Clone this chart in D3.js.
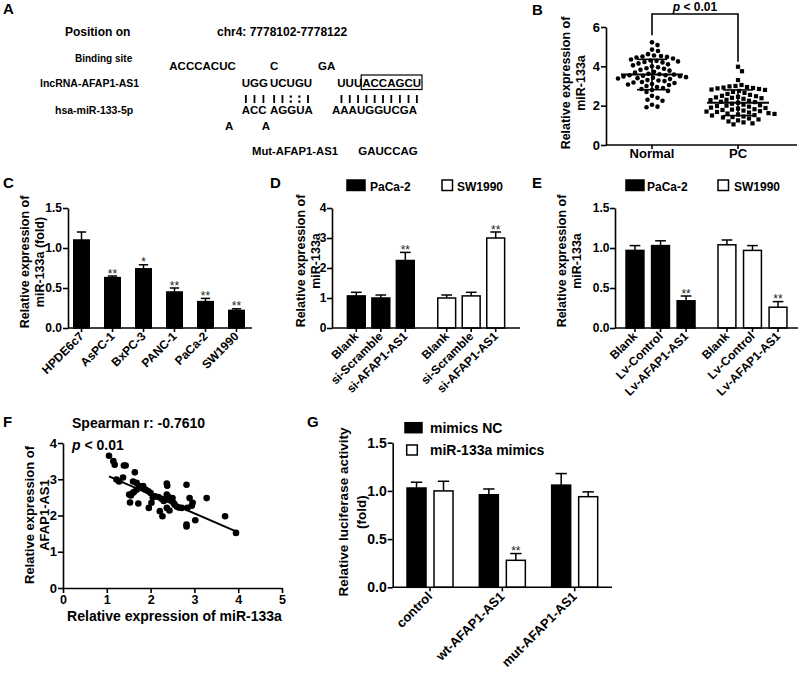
<!DOCTYPE html>
<html><head><meta charset="utf-8">
<script src="https://cdn.jsdelivr.net/npm/d3@7"></script>
<style>body{margin:0;background:#fff}svg{display:block}</style>
</head><body>
<svg id="fig" width="800" height="679"></svg>
<script>
// ---------------- DATA ----------------
// Panel A (sequence diagram text)
const aPosition = "chr4: 7778102-7778122";
const aLncUnpaired = ["ACCCACUC", "C", "GA"];
const aLncSegments = ["UGG", "UCUGU", "UUUACCAGCU"];
const aPairs = ["|||", "||::|", "||||||||||"];
const aMirSegments = ["ACC", "AGGUA", "AAAUGGUCGA"];
const aMirUnpaired = ["A", "A"];
const aMutSeq = "GAUCCAG";

// Panel B
const bCategories = ["Normal", "PC"];
const bNormal = [5.22,5.08,4.85,4.78,4.62,4.55,4.52,4.5,4.48,4.45,4.4,4.35,4.3,4.28,4.25,4.22,4.2,4.15,4.1,4.05,
  4.0,3.95,3.9,3.88,3.82,3.78,3.72,3.68,3.62,3.6,3.58,3.55,3.55,3.52,3.5,3.48,3.45,3.42,3.4,3.38,
  3.35,3.3,3.28,3.25,3.2,3.18,3.15,3.1,3.08,3.05,3.0,2.95,2.9,2.85,2.8,2.75,2.7,2.5,2.4,2.3,2.25,2.05,1.95,1.92];
const bPC = [3.98,3.75,3.3,3.05,3.0,2.98,2.95,2.92,2.9,2.88,2.85,2.82,2.8,2.75,2.7,2.65,2.6,2.55,2.5,
  2.48,2.45,2.42,2.4,2.38,2.35,2.3,2.28,2.25,2.2,2.18,2.15,2.1,2.05,2.02,2.0,1.98,1.95,1.9,1.88,
  1.85,1.82,1.8,1.78,1.75,1.72,1.7,1.68,1.65,1.62,1.6,1.58,1.55,1.52,1.5,1.45,1.42,1.4,1.35,1.3,
  1.25,1.2,1.15,1.1,1.05];
const bTicks = [0, 2, 4, 6];

// Panel C
const cCategories = ["HPDE6c7", "AsPC-1", "BxPC-3", "PANC-1", "PaCa-2", "SW1990"];
const cValues = [1.10, 0.63, 0.74, 0.45, 0.33, 0.22];
const cErrors = [0.10, 0.02, 0.05, 0.05, 0.04, 0.02];
const cStars = ["", "**", "*", "**", "**", "**"];
const cTicks = [0, 0.5, 1.0, 1.5];

// Panel D
const dSeries = ["PaCa-2", "SW1990"];
const dCategories = ["Blank", "si-Scramble", "si-AFAP1-AS1"];
const dPaCa2 = [1.07, 1.00, 2.25];
const dPaCa2Err = [0.12, 0.10, 0.27];
const dSW1990 = [1.00, 1.07, 3.00];
const dSW1990Err = [0.10, 0.12, 0.20];
const dStars = ["", "", "**"];
const dTicks = [0, 1, 2, 3, 4];

// Panel E
const eSeries = ["PaCa-2", "SW1990"];
const eCategories = ["Blank", "Lv-Control", "Lv-AFAP1-AS1"];
const ePaCa2 = [0.97, 1.03, 0.34];
const ePaCa2Err = [0.06, 0.06, 0.06];
const eSW1990 = [1.04, 0.97, 0.26];
const eSW1990Err = [0.06, 0.06, 0.07];
const eStars = ["", "", "**"];
const eTicks = [0, 0.5, 1.0, 1.5];

// Panel F
const fX = [1.05,1.15,1.18,1.39,1.43,1.22,1.28,1.37,1.64,1.60,1.68,1.51,1.59,1.68,1.74,1.83,1.89,1.95,2.00,1.53,
  1.72,1.96,2.02,2.10,2.18,2.25,2.37,2.38,2.37,2.33,2.44,2.50,2.21,2.27,2.37,2.43,2.52,2.60,2.71,2.84,
  2.82,2.89,2.94,2.96,2.82,2.82,3.02,3.28,3.70,3.95,1.55,1.62,2.05,2.40,2.55,2.65,1.78,2.30];
const fY = [3.65,3.50,3.40,3.38,3.38,2.99,2.94,3.05,3.19,2.94,2.90,2.58,2.62,2.71,2.81,2.81,2.71,2.67,2.62,2.36,
  2.33,2.21,2.35,2.53,2.51,2.46,2.88,2.82,2.58,2.44,2.46,2.48,2.12,1.98,2.21,2.14,2.35,2.24,2.21,2.21,
  2.85,2.48,2.27,2.35,1.75,1.70,1.87,2.48,1.98,1.52,2.55,2.65,2.50,2.52,2.30,2.22,2.78,2.40];
const fFitX = [1.05, 3.95];
const fFitY = [3.08, 1.56];
const fXTicks = [0, 1, 2, 3, 4, 5];
const fYTicks = [0, 1, 2, 3, 4];

// Panel G
const gSeries = ["mimics NC", "miR-133a mimics"];
const gCategories = ["control", "wt-AFAP1-AS1", "mut-AFAP1-AS1"];
const gNC = [1.03, 0.96, 1.06];
const gNCErr = [0.06, 0.06, 0.12];
const gMimics = [1.00, 0.28, 0.94];
const gMimicsErr = [0.10, 0.07, 0.05];
const gStars = ["", "**", ""];
const gTicks = [0, 0.5, 1.0, 1.5];

// ---------------- HELPERS ----------------
const FONT = "'Liberation Sans', Arial, Helvetica, sans-serif";
const svg = d3.select("#fig");
svg.append("rect").attr("width", 800).attr("height", 679).attr("fill", "#fff");

function txt(g, x, y, s, o = {}) {
  const t = g.append("text").attr("x", x).attr("y", y).text(s)
    .attr("font-family", FONT).attr("font-size", o.size || 12)
    .attr("font-weight", o.weight || "bold").attr("fill", "#000");
  if (o.anchor) t.attr("text-anchor", o.anchor);
  if (o.rotate != null) t.attr("transform", `rotate(${o.rotate},${x},${y})`);
  if (o.style) t.attr("font-style", o.style);
  return t;
}
function line(g, x1, y1, x2, y2, w = 1.6) {
  return g.append("line").attr("x1", x1).attr("y1", y1).attr("x2", x2).attr("y2", y2)
    .attr("stroke", "#000").attr("stroke-width", w);
}
function yTitle(g, x, yc, lines, size, gap) {
  lines.forEach((l, i) => txt(g, x + i * gap, yc, l, { size, anchor: "middle", rotate: -90 }));
}
function yAxis(g, scale, x, ticks, fmt, size = 12, pad = 1) {
  const a = g.append("g").attr("transform", `translate(${x},0)`)
    .call(d3.axisLeft(scale).tickValues(ticks).tickFormat(fmt).tickSize(5).tickSizeOuter(0).tickPadding(pad));
  a.attr("font-family", FONT).attr("font-size", size).attr("font-weight", "bold");
  a.selectAll("path,line").attr("stroke", "#000").attr("stroke-width", 1.6);
  a.selectAll("text").attr("fill", "#000");
  return a;
}
function bar(g, cx, w, v, e, y, fill, star) {
  g.append("rect").attr("x", cx - w / 2).attr("y", y(v)).attr("width", w).attr("height", y(0) - y(v))
    .attr("fill", fill).attr("stroke", "#000").attr("stroke-width", 1.5);
  const top = y(v + e);
  line(g, cx, y(v), cx, top, 1.5);
  line(g, cx - w * 0.3, top, cx + w * 0.3, top, 1.5);
  if (star) txt(g, cx, top + 1.5, star, { size: 12, weight: "normal", anchor: "middle" }).attr("fill", "#222");
}
function xBase(g, x0, x1, y0, centers, labels, size, dx = 3, dy = 9) {
  line(g, x0, y0, x1, y0);
  centers.forEach((c, i) => {
    line(g, c, y0, c, y0 + 4);
    txt(g, c + dx, y0 + dy, labels[i], { size, anchor: "end", rotate: -45 });
  });
}
function legendItem(g, x, y, w, h, fill, label, tx, size) {
  g.append("rect").attr("x", x).attr("y", y).attr("width", w).attr("height", h)
    .attr("fill", fill).attr("stroke", "#000").attr("stroke-width", 1.5);
  txt(g, tx, y + h, label, { size });
}

// ---------------- PANEL A ----------------
{
  const g = svg.append("g");
  const S = 11.5;
  txt(g, 3, 14, "A", { size: 15 });
  txt(g, 65, 36, "Position on", { size: 12 });
  txt(g, 217, 36, aPosition, { size: 12 });
  txt(g, 75, 62, "Binding site", { size: 10 });
  txt(g, 40, 87, "lncRNA-AFAP1-AS1", { size: 10.5 });
  txt(g, 55, 113.5, "hsa-miR-133-5p", { size: 10.5 });
  const unpX = [169.3, 270, 318];
  aLncUnpaired.forEach((s, i) => txt(g, unpX[i], 70, s, { size: S }));
  const segX = [241.7, 270, 337.3];
  const lncNodes = aLncSegments.map((s, i) => txt(g, segX[i], 87, s, { size: S }).node());
  const mirX = [241.7, 270, 332];
  aMirSegments.forEach((s, i) => txt(g, mirX[i], 113.5, s, { size: S }));
  const mirUnpX = [225, 261.7];
  aMirUnpaired.forEach((s, i) => txt(g, mirUnpX[i], 129.5, s, { size: S }));
  txt(g, 252, 155, "Mut-AFAP1-AS1", { size: 11.3 });
  txt(g, 358.3, 155, aMutSeq, { size: S });
  // pairing marks at character centres of lncRNA row
  aPairs.forEach((p, si) => {
    const node = lncNodes[si];
    p.split("").forEach((ch, ci) => {
      const ext = node.getExtentOfChar(ci);
      const cx = ext.x + ext.width / 2;
      if (ch === "|") line(g, cx, 95, cx, 103, 1.8);
      else {
        g.append("rect").attr("x", cx - 1.1).attr("y", 95.5).attr("width", 2.2).attr("height", 2.2).attr("fill", "#000");
        g.append("rect").attr("x", cx - 1.1).attr("y", 100.5).attr("width", 2.2).attr("height", 2.2).attr("fill", "#000");
      }
    });
  });
  // box around seed match (chars 3..9 of last segment)
  const last = lncNodes[2];
  const e0 = last.getExtentOfChar(3), e1 = last.getExtentOfChar(9);
  g.append("rect").attr("x", e0.x - 1).attr("y", 75).attr("width", e1.x + e1.width - e0.x + 2).attr("height", 14.5)
    .attr("fill", "none").attr("stroke", "#000").attr("stroke-width", 1.2);
}

// ---------------- PANEL B ----------------
{
  const g = svg.append("g");
  txt(g, 532, 15, "B", { size: 15 });
  const y = d3.scaleLinear().domain([0, 6]).range([145, 27]);
  const x = d3.scalePoint().domain(bCategories).range([652, 738]);
  yAxis(g, y, 606, bTicks, d3.format("d"), 13);
  line(g, 606, y(0), 797, y(0));
  bCategories.forEach(c => {
    line(g, x(c), y(0), x(c), y(0) + 4);
    txt(g, x(c), 157.5, c, { size: 13, anchor: "middle" });
  });
  yTitle(g, 569.5, 83, ["Relative expression of", "miR-133a"], 12.5, 15);
  // beeswarm
  function swarm(vals, cx, minD) {
    const placed = [];
    return vals.slice().sort((a, b) => b - a).map(v => {
      const py = y(v);
      for (let k = 0; k < 400; k++) {
        const off = (k % 2 ? 1 : -1) * Math.ceil(k / 2) * 0.5;
        const px = cx + off;
        if (placed.every(p => (p[0] - px) ** 2 + (p[1] - py) ** 2 >= minD * minD)) {
          placed.push([px, py]);
          return [px, py];
        }
      }
      return [cx, py];
    });
  }
  const ptsN = swarm(bNormal, x("Normal"), 5.8);
  g.selectAll(".n").data(ptsN).enter().append("circle").attr("cx", d => d[0]).attr("cy", d => d[1]).attr("r", 2.3).attr("fill", "#000");
  const ptsP = swarm(bPC, x("PC"), 5.8);
  g.selectAll(".p").data(ptsP).enter().append("rect").attr("x", d => d[0] - 2.1).attr("y", d => d[1] - 2.1)
    .attr("width", 4.2).attr("height", 4.2).attr("fill", "#000");
  [[bNormal, "Normal"], [bPC, "PC"]].forEach(([vals, c]) => {
    const m = d3.mean(vals), s = d3.deviation(vals), cx = x(c);
    line(g, cx - 31, y(m), cx + 31, y(m), 1.8);
    line(g, cx, y(m - s), cx, y(m + s), 1.6);
    line(g, cx - 15, y(m - s), cx + 15, y(m - s), 1.6);
    line(g, cx - 15, y(m + s), cx + 15, y(m + s), 1.6);
  });
  // significance bracket
  const bt = y(6) - 13;
  g.append("path").attr("d", `M${x("Normal")},${y(d3.max(bNormal)) - 7}V${bt}H${x("PC")}V${y(d3.max(bPC)) - 5}`)
    .attr("fill", "none").attr("stroke", "#000").attr("stroke-width", 1.6);
  const pt = txt(g, (x("Normal") + x("PC")) / 2, 10.5, "", { size: 12, anchor: "middle" });
  pt.append("tspan").attr("font-style", "italic").text("p");
  pt.append("tspan").text(" < 0.01");
}

// ---------------- PANEL C ----------------
{
  const g = svg.append("g");
  txt(g, 3, 188, "C", { size: 15 });
  const y = d3.scaleLinear().domain([0, 1.5]).range([328, 208]);
  const x = d3.scaleBand().domain(cCategories).range([66, 252]).paddingInner(0.5).paddingOuter(0.25);
  cCategories.forEach((c, i) => bar(g, x(c) + x.bandwidth() / 2, x.bandwidth(), cValues[i], cErrors[i], y, "#000", cStars[i]));
  yAxis(g, y, 68, cTicks, d3.format(".1f"));
  xBase(g, 68, 252, y(0), cCategories.map(c => x(c) + x.bandwidth() / 2), cCategories, 12);
  yTitle(g, 29, 262, ["Relative expression of", "miR-133a (fold)"], 12.5, 15);
}

// ---------------- PANELS D & E ----------------
function groupedPanel(o) {
  const g = svg.append("g");
  txt(g, o.letterX, 188, o.letter, { size: 15 });
  const y = d3.scaleLinear().domain([0, o.ymax]).range([328, 208]);
  const outer = d3.scaleBand().domain(o.series).range([o.x0, o.x1]).paddingInner(o.pi).paddingOuter(o.po);
  const inner = d3.scaleBand().domain(o.cats).range([0, outer.bandwidth()]).paddingInner(o.ii).paddingOuter(0);
  const centers = [], labels = [];
  o.series.forEach((s, si) => {
    o.cats.forEach((c, ci) => {
      const cx = outer(s) + inner(c) + inner.bandwidth() / 2;
      bar(g, cx, inner.bandwidth(), o.vals[si][ci], o.errs[si][ci], y, si === 0 ? "#000" : "#fff", o.stars[ci]);
      centers.push(cx); labels.push(c);
    });
  });
  yAxis(g, y, o.x0, o.ticks, o.fmt, 12, 0.5);
  xBase(g, o.x0, o.x1, y(0), centers, labels, 12);
  yTitle(g, o.titleX, 261, ["Relative expression of", "miR-133a"], 12.5, 14.5);
  legendItem(g, o.leg[0], 180, 18, 10.5, "#000", o.series[0], o.leg[1], 12);
  legendItem(g, o.leg[2], 180, 10.5, 10.5, "#fff", o.series[1], o.leg[3], 12);
}
groupedPanel({ letter: "D", letterX: 270, x0: 332, x1: 520, ymax: 4, ticks: dTicks, fmt: d3.format("d"),
  series: dSeries, cats: dCategories, vals: [dPaCa2, dSW1990], errs: [dPaCa2Err, dSW1990Err], stars: dStars,
  pi: 0.26, po: 0.17, ii: 0.27, titleX: 305, leg: [347, 370, 442, 457] });
groupedPanel({ letter: "E", letterX: 532, x0: 615, x1: 798, ymax: 1.5, ticks: eTicks, fmt: d3.format(".1f"),
  series: eSeries, cats: eCategories, vals: [ePaCa2, eSW1990], errs: [ePaCa2Err, eSW1990Err], stars: eStars,
  pi: 0.25, po: 0.12, ii: 0.3, titleX: 566, leg: [626, 647, 718, 734] });

// ---------------- PANEL F ----------------
{
  const g = svg.append("g");
  txt(g, 3, 427, "F", { size: 15 });
  const x = d3.scaleLinear().domain([0, 5]).range([63, 282]);
  const y = d3.scaleLinear().domain([0, 4]).range([588, 443]);
  yAxis(g, y, 63, fYTicks, d3.format("d"), 13);
  const ax = g.append("g").attr("transform", `translate(0,${y(0)})`)
    .call(d3.axisBottom(x).tickValues(fXTicks).tickFormat(d3.format("d")).tickSize(5).tickSizeOuter(0).tickPadding(2));
  ax.attr("font-family", FONT).attr("font-size", 12.5).attr("font-weight", "bold");
  ax.selectAll("path,line").attr("stroke", "#000").attr("stroke-width", 1.6);
  ax.selectAll("text").attr("fill", "#000");
  g.selectAll(".pt").data(fX).enter().append("circle")
    .attr("cx", d => x(d)).attr("cy", (d, i) => y(fY[i])).attr("r", 3.3).attr("fill", "#000");
  line(g, x(fFitX[0]), y(fFitY[0]), x(fFitX[1]), y(fFitY[1]), 2);
  txt(g, 72, 428, "Spearman r: -0.7610", { size: 14 });
  const p = txt(g, 72, 450, "", { size: 14 });
  p.append("tspan").attr("font-style", "italic").text("p");
  p.append("tspan").text(" < 0.01");
  txt(g, (63 + 282) / 2 + 2, 621, "Relative expression of miR-133a", { size: 14, anchor: "middle" });
  yTitle(g, 34, 515, ["Relative expression of", "AFAP1-AS1"], 13, 14.5);
}

// ---------------- PANEL G ----------------
{
  const g = svg.append("g");
  txt(g, 307, 427, "G", { size: 15 });
  const y = d3.scaleLinear().domain([0, 1.5]).range([587.3, 442.7]);
  const outer = d3.scaleBand().domain(gCategories).range([392.7, 612]).paddingInner(0.364).paddingOuter(0.198);
  const inner = d3.scaleBand().domain(gSeries).range([0, outer.bandwidth()]).paddingInner(0.296);
  const series = [[gNC, gNCErr, "#000"], [gMimics, gMimicsErr, "#fff"]];
  gCategories.forEach((c, ci) => {
    gSeries.forEach((s, si) => {
      const cx = outer(c) + inner(s) + inner.bandwidth() / 2;
      bar(g, cx, inner.bandwidth(), series[si][0][ci], series[si][1][ci], y, series[si][2], si === 1 ? gStars[ci] : "");
    });
  });
  yAxis(g, y, 392.7, gTicks, d3.format(".1f"), 14);
  xBase(g, 392.7, 612, y(0), gCategories.map(c => outer(c) + outer.bandwidth() / 2), gCategories, 13, 3, 10);
  yTitle(g, 348, 512, ["Relative luciferase activity", "(fold)"], 13.5, 18);
  legendItem(g, 405, 422.7, 17, 10, "#000", gSeries[0], 430, 14);
  legendItem(g, 406.7, 445, 10.6, 10, "#fff", gSeries[1], 430, 14);
}
</script>
</body></html>
